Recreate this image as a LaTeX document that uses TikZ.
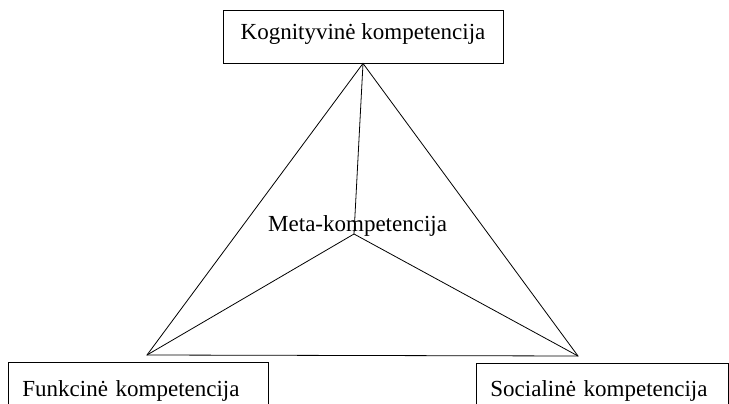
\documentclass[tikz,border=0pt]{standalone}
\usepackage{fontspec}
\setmainfont{Liberation Serif}
\begin{document}
\begin{tikzpicture}[x=1pt,y=-1pt,
  every node/.style={font=\fontsize{23pt}{27pt}\selectfont},
  compbox/.style={draw,line width=0.8pt,text height=15pt,text depth=8pt,align=left},
  edge/.style={line width=0.8pt,line join=miter}]
  \useasboundingbox (0,0) rectangle (729,404);
  \fill[white] (0,0) rectangle (729,404);
  \clip (0,0) rectangle (729,404);

  % competence boxes
  \node[compbox,minimum width=280pt,minimum height=53pt,inner xsep=0pt]
    (kog) at (363,36.5) {Kognityvinė kompetencija};
  \node[compbox,anchor=north west,text width=232pt,inner xsep=14pt,inner ysep=19pt]
    (fun) at (8,362) {Funkcinė kompetencija};
  \node[compbox,anchor=north west,text width=224pt,inner xsep=14pt,inner ysep=18pt]
    (soc) at (476,363) {Socialinė kompetencija};

  % triangle corners and centre
  \coordinate (bl) at (147,355);
  \coordinate (br) at (578,356);
  \coordinate (mid) at (354,234);

  \draw[edge] (kog.south) -- (bl) -- (br) -- cycle;
  \draw[edge] (kog.south) -- (mid);
  \draw[edge] (mid) -- (bl);
  \draw[edge] (mid) -- (br);

  \node[anchor=base west,inner sep=0pt] (meta) at (268,231) {Meta-kompetencija};
\end{tikzpicture}
\end{document}
